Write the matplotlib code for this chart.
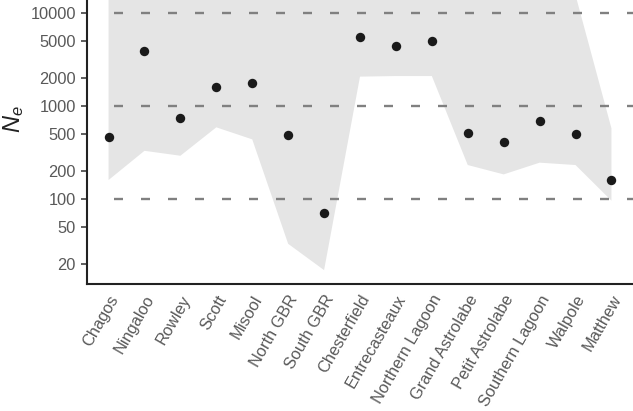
import numpy as np
import matplotlib.pyplot as plt

sites = ['Chagos', 'Ningaloo', 'Rowley', 'Scott', 'Misool', 'North GBR', 'South GBR',
         'Chesterfield', 'Entrecasteaux', 'Northern Lagoon', 'Grand Astrolabe',
         'Petit Astrolabe', 'Southern Lagoon', 'Walpole', 'Matthew']
ne = [465, 3900, 745, 1590, 1750, 485, 70, 5500, 4400, 5000, 508, 408, 695, 500, 160]
ne_low = [160, 330, 292, 590, 438, 33, 17.2, 2070, 2100, 2100, 232, 184, 246, 232, 96]
ne_high = [1e6, 1e6, 1e6, 1e6, 1e6, 1e6, 1e6, 1e6, 1e6, 1e6, 1e6, 1e6, 1e6, 15600, 575]
yticks = [20, 50, 100, 200, 500, 1000, 2000, 5000, 10000]
ref_lines = [100, 1000, 10000]

def main():
    plt.rcParams['font.family'] = ['Liberation Sans', 'DejaVu Sans']
    plt.rcParams['mathtext.fontset'] = 'custom'
    plt.rcParams['mathtext.it'] = 'Liberation Sans:italic'
    plt.rcParams['mathtext.rm'] = 'Liberation Sans'
    txt = '#595959'

    fig = plt.figure(figsize=(6.33, 4.11), dpi=100)
    ax = fig.add_axes([87/633, 1 - 284/411, 1 - 87/633, 284/411])
    x = np.arange(len(sites))

    ax.fill_between(x, ne_low, ne_high, color='#e5e5e5', lw=0, zorder=1)
    ax.hlines(ref_lines, 0.14, len(sites) - 0.4, colors='#808080', lw=1.7,
              linestyles=(0, (9 / 1.7 * 0.72, 18 / 1.7 * 0.72)), zorder=2)
    ax.scatter(x, ne, s=46, color='#1a1a1a', zorder=3, lw=0)

    ax.set_yscale('log')
    ax.set_ylim(12.2, 13800)
    ax.set_xlim(-0.6, len(sites) - 0.4)
    ax.set_yticks(yticks)
    ax.set_yticklabels([str(v) for v in yticks])
    ax.minorticks_off()
    ax.set_xticks(x)
    ax.set_xticklabels(sites, rotation=60, ha='right', va='top', rotation_mode='anchor')
    ax.tick_params(axis='y', length=4, width=1.1, color='#333333', labelsize=11.8,
                   labelcolor=txt, pad=4)
    ax.tick_params(axis='x', length=0, labelsize=11.8, labelcolor=txt, pad=6)
    for s in ['top', 'right']:
        ax.spines[s].set_visible(False)
    for s in ['left', 'bottom']:
        ax.spines[s].set_linewidth(1.5)
        ax.spines[s].set_color('#222222')
    ax.set_ylabel(r'$N_e$', fontsize=17, color='#222222')
    ax.yaxis.set_label_coords(-0.112, 0.58)

    fig.savefig('out.png', dpi=100)

if __name__ == "__main__":
    main()
